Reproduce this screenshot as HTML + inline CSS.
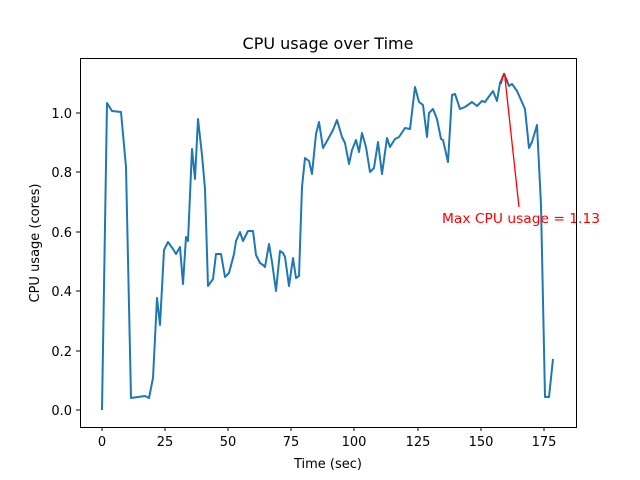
<!DOCTYPE html>
<html><head><meta charset="utf-8"><style>body{margin:0;background:#fff}svg{display:block}text{font-family:"DejaVu Sans","Liberation Sans",sans-serif}</style></head><body>
<svg width="640" height="480" viewBox="0 0 640 480">
<rect width="640" height="480" fill="#fff"/>
<text x="328" y="49" font-size="16" text-anchor="middle">CPU usage over Time</text>
<polyline fill="none" stroke="#1f77b4" stroke-width="2" stroke-linejoin="round" points="102,410 107,103 112,111 121,112 126,167 131,398 138,397 145,396 149,398 153,378 157,298 160,325 164,250 168,242 173,249 176,254 180,247 183,284 186,237 188,241 192,149 195,179 198,119 202,155 205,189 208,286 213,279 216,254 221,254 225,277 229,273 234,254 236,241 240,232 243,241 248,231 253,231 256,255 260,263 263,265 265,267 269,244 272,262 276,291 280,251 283,253 285,257 289,286 293,258 296,278 299,276 302,187 305,158 309,161 312,174 316,134 319,122 323,148 327,141 333,130 337,120 342,137 345,143 349,164 352,150 356,140 359,152 362,133 366,147 370,172 374,168 378,142 382,174 387,138 390,147 395,139 399,137 405,128 410,129 415,87 419,102 423,105 427,137 429,113 433,109 437,119 441,139 443,140 448,162 452,95 455,94 460,109 465,107 472,102 477,106 482,101 485,102 493,91 497,101 500,83 504,74 509,86 512,84 517,91 525,109 529,148 532,142 537,125 541,205 545,397 549,397 553,359"/>
<line x1="519" y1="207" x2="505" y2="78" stroke="red" stroke-width="1.3"/>
<path d="M504,73 L501,84 M504,73 L508,83" stroke="red" stroke-width="1.3" fill="none"/>
<text x="442" y="223" font-size="13.5" fill="red" textLength="158" lengthAdjust="spacingAndGlyphs">Max CPU usage = 1.13</text>
<rect x="80.5" y="58.5" width="496" height="369" fill="none" stroke="#000" stroke-width="1"/>
<g stroke="#000" stroke-width="1">
<line x1="102" y1="427" x2="102" y2="431"/><line x1="165" y1="427" x2="165" y2="431"/><line x1="228" y1="427" x2="228" y2="431"/><line x1="291" y1="427" x2="291" y2="431"/><line x1="354" y1="427" x2="354" y2="431"/><line x1="418" y1="427" x2="418" y2="431"/><line x1="481" y1="427" x2="481" y2="431"/><line x1="544" y1="427" x2="544" y2="431"/>
<line x1="76" y1="410" x2="80" y2="410"/><line x1="76" y1="351" x2="80" y2="351"/><line x1="76" y1="291" x2="80" y2="291"/><line x1="76" y1="232" x2="80" y2="232"/><line x1="76" y1="172" x2="80" y2="172"/><line x1="76" y1="113" x2="80" y2="113"/>
</g>
<g font-size="13" text-anchor="middle">
<text x="102" y="446">0</text><text x="165" y="446">25</text><text x="228" y="446">50</text><text x="291" y="446">75</text><text x="354" y="446">100</text><text x="418" y="446">125</text><text x="481" y="446">150</text><text x="544" y="446">175</text>
<text x="328" y="468">Time (sec)</text>
</g>
<g font-size="13" text-anchor="end">
<text x="72" y="415">0.0</text><text x="72" y="356">0.2</text><text x="72" y="296">0.4</text><text x="72" y="237">0.6</text><text x="72" y="177">0.8</text><text x="72" y="118">1.0</text>
</g>
<text transform="translate(39,243) rotate(-90)" font-size="13" text-anchor="middle">CPU usage (cores)</text>
</svg>
</body></html>
